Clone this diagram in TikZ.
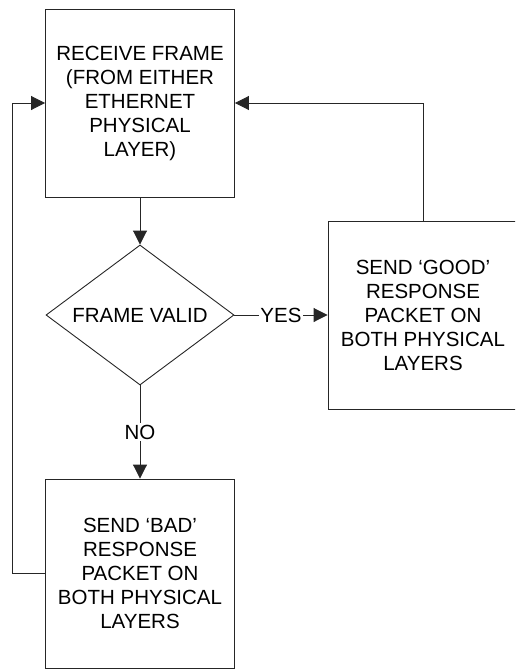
\documentclass[tikz,border=0pt]{standalone}
\usepackage{fontspec}
\setmainfont{Liberation Sans}
\usetikzlibrary{shapes.geometric,arrows.meta}
\begin{document}
\begin{tikzpicture}[x=1pt,y=-1pt,
  every node/.style={font=\fontsize{20.5}{24}\selectfont, text=black},
  boxnode/.style={draw=black!85, line width=0.9pt, rectangle, align=center, inner sep=0pt, minimum width=189pt, minimum height=188pt},
  decide/.style={draw=black!85, line width=0.9pt, diamond, aspect=1.343, inner sep=0pt, minimum width=188pt, minimum height=140pt},
  conn/.style={draw=black!85, line width=0.9pt},
  arr/.style={conn, -{Triangle[length=14pt,width=14pt]}},
  lbl/.style={fill=white, inner sep=1.5pt}
]
\useasboundingbox (0,0) rectangle (515,669);
\clip (0,0) rectangle (515,669);
\node[boxnode] (top) at (140,103) {RECEIVE FRAME\\(FROM EITHER\\ETHERNET\\PHYSICAL\\LAYER)};
\node[decide] (dec) at (140,315) {FRAME VALID};
\node[boxnode, minimum width=190pt] (good) at (423,315) {SEND ‘GOOD’\\RESPONSE\\PACKET ON\\BOTH PHYSICAL\\LAYERS};
\node[boxnode, minimum height=189pt] (bad) at (140,573.5) {SEND ‘BAD’\\RESPONSE\\PACKET ON\\BOTH PHYSICAL\\LAYERS};
\coordinate (lft) at (12,573.5);
\draw[arr] (top.south) -- (dec.north);
\draw[arr] (dec.east) -- node[lbl] (yes) {YES} (good.west);
\draw[arr] (dec.south) -- node[lbl] (no) {NO} (bad.north);
\draw[arr] (good.north) |- (top.east);
\draw[arr] (bad.west) -- (lft) |- (top.west);
\end{tikzpicture}
\end{document}
